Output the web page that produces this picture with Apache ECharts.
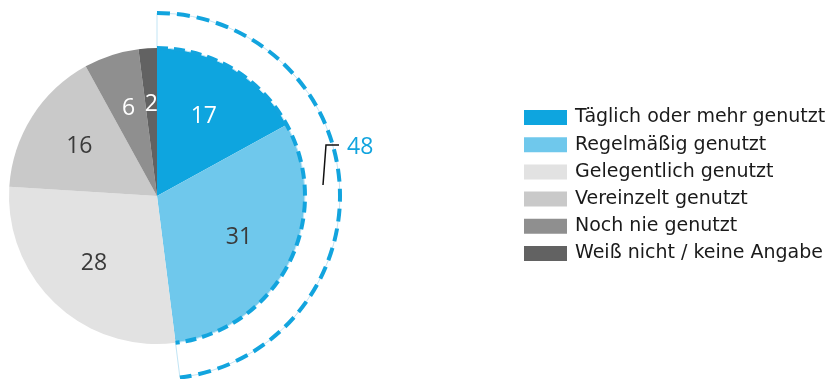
<!DOCTYPE html>
<html><head><meta charset="utf-8">
<script src="https://cdn.jsdelivr.net/npm/echarts@6/dist/echarts.min.js"></script>
<style>html,body{margin:0;padding:0;background:#fff}#c{width:834px;height:379px}</style>
</head><body><div id="c"></div>
<script>
const categories = ['Täglich oder mehr genutzt','Regelmäßig genutzt','Gelegentlich genutzt','Vereinzelt genutzt','Noch nie genutzt','Weiß nicht / keine Angabe'];
const values = [17, 31, 28, 16, 6, 2];
const colors = ['#0ea5df','#6fc8ec','#e2e2e2','#c9c9c9','#8f8f8f','#626262'];
const labelColors = ['#ffffff','#3a3a3a','#3a3a3a','#3a3a3a','#ffffff','#ffffff'];
const highlightCount = 2;
const highlightTotal = values.slice(0, highlightCount).reduce((a, b) => a + b, 0);

const CX = 157, CY = 196, R = 148, R2 = 183;
const BLUE = '#12a4de';
const FONT = '"Open Sans", "Noto Sans", sans-serif';
const LEGEND_FONT = '"DejaVu Sans", sans-serif';

const total = values.reduce((a, b) => a + b, 0);

const pieData = categories.map((n, i) => ({ name: n, value: values[i], itemStyle: { color: colors[i] } }));
const labelData = categories.map((n, i) => ({
  name: n, value: values[i],
  itemStyle: { color: 'rgba(0,0,0,0)' },
  label: { color: labelColors[i] }
}));

const chart = echarts.init(document.getElementById('c'), null, { renderer: 'canvas' });
chart.setOption({
  animation: false,
  backgroundColor: '#ffffff',
  legend: {
    orient: 'vertical', left: 519, top: 103,
    itemWidth: 43, itemHeight: 15, itemGap: 8.2,
    icon: 'rect',
    selectedMode: false,
    textStyle: { fontSize: 19, color: '#1a1a1a', fontFamily: LEGEND_FONT, padding: [0, 0, 0, 3] },
    data: categories.map((n, i) => ({ name: n, itemStyle: { color: colors[i] } }))
  },
  polar: { center: [CX, CY], radius: R2 },
  angleAxis: { type: 'value', min: 0, max: total, startAngle: 90, clockwise: true, show: false },
  radiusAxis: { type: 'value', min: 0, max: R2, show: false },
  series: [
    {
      type: 'pie', name: 'main', center: [CX, CY], radius: [0, R],
      startAngle: 90, clockwise: true, silent: true,
      label: { show: false }, labelLine: { show: false },
      emphasis: { disabled: true },
      data: pieData, z: 1
    },
    {
      type: 'pie', name: 'ring', center: [CX, CY], radius: [R, R2],
      startAngle: 90, clockwise: true, silent: true,
      label: { show: false }, labelLine: { show: false },
      emphasis: { disabled: true },
      data: [
        { name: '_hl', value: highlightTotal, itemStyle: { color: 'rgba(0,0,0,0)', borderColor: '#c2e5f5', borderWidth: 1 } },
        { name: '_rest', value: total - highlightTotal, itemStyle: { color: 'rgba(0,0,0,0)', borderWidth: 0 } }
      ],
      z: 2
    },
    {
      type: 'pie', name: 'labels', center: [CX, CY], radius: [30, R],
      startAngle: 90, clockwise: true, silent: true,
      avoidLabelOverlap: false,
      label: { show: true, position: 'inside', formatter: '{c}', fontSize: 23, fontFamily: FONT },
      labelLine: { show: false },
      emphasis: { disabled: true },
      data: labelData, z: 4
    },
    {
      type: 'custom', coordinateSystem: 'polar', silent: true, z: 5,
      data: [[R2, highlightTotal]],
      renderItem: function (params, api) {
        const cs = params.coordSys;
        const cx = cs.cx, cy = cs.cy;
        const endV = api.value(1);
        function ang(p) { return Math.atan2(p[1] - cy, p[0] - cx); }
        const a0 = ang(api.coord([R2, 0]));
        let a1 = ang(api.coord([R2, endV]));
        if (a1 <= a0) a1 += Math.PI * 2;
        return {
          type: 'group',
          children: [
            { type: 'arc', shape: { cx, cy, r: R2, startAngle: a0, endAngle: a1, clockwise: true },
              style: { stroke: BLUE, lineWidth: 4, lineDash: [13, 7], fill: null } },
            { type: 'arc', shape: { cx, cy, r: R, startAngle: a0, endAngle: a1, clockwise: true },
              style: { stroke: BLUE, lineWidth: 4, lineDash: [11, 6], fill: null } },
            { type: 'polyline', shape: { points: [[cx + 166, cy - 11], [cx + 169, cy - 51], [cx + 182, cy - 51]] },
              style: { stroke: '#111', lineWidth: 1.5, fill: null } },
            { type: 'text', x: cx + 190, y: cy - 49,
              style: { text: String(endV), fill: BLUE, font: '23px ' + FONT, textVerticalAlign: 'middle', textAlign: 'left' } }
          ]
        };
      }
    }
  ]
});
</script>
</body></html>
